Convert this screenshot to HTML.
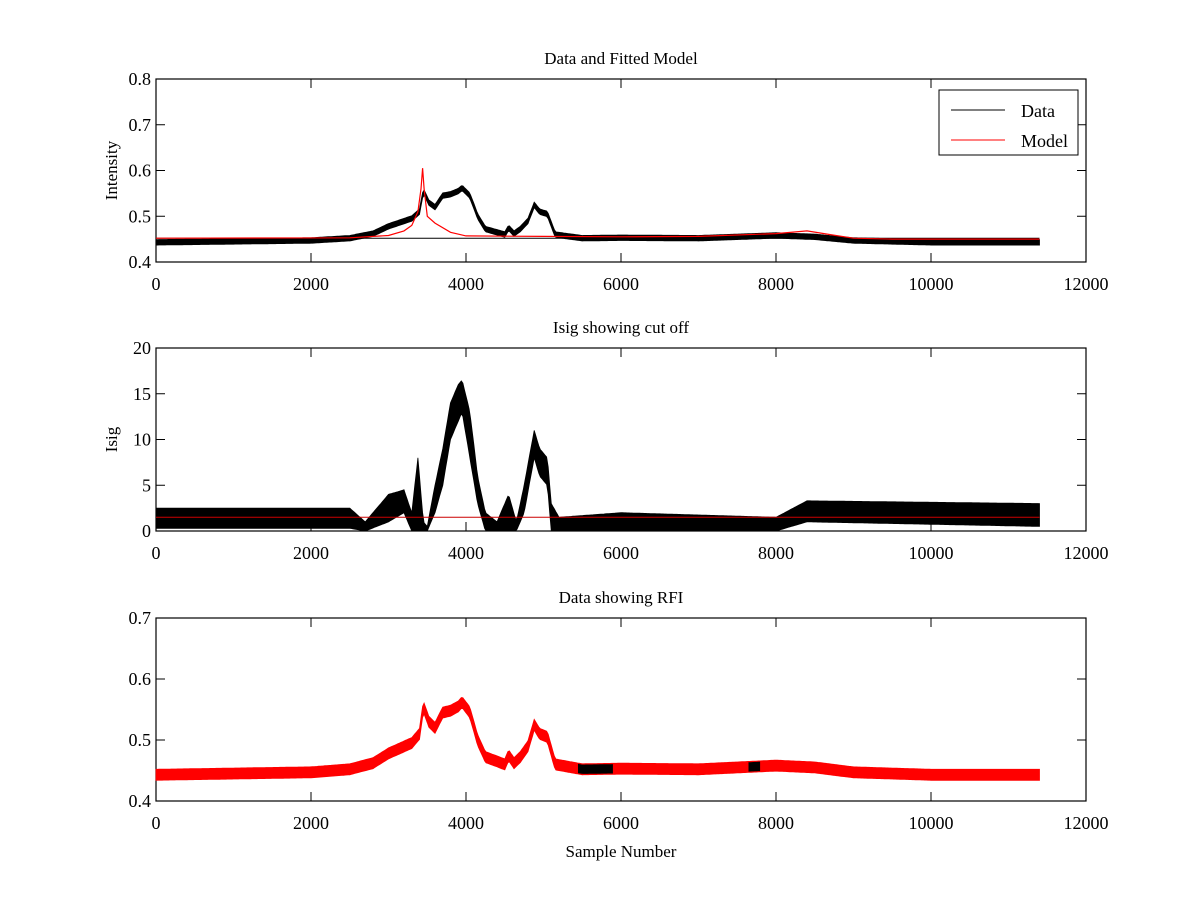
<!DOCTYPE html>
<html><head><meta charset="utf-8"><style>
body{margin:0;background:#fff}
svg text{font-family:"Liberation Serif",serif;fill:#000}
</style></head><body>
<svg id="fig" width="1200" height="900" xmlns="http://www.w3.org/2000/svg"></svg>
<script>
const xTicks=[0,2000,4000,6000,8000,10000,12000];
const p1YTicks=[0.4,0.5,0.6,0.7,0.8];
const p2YTicks=[0,5,10,15,20];
const p3YTicks=[0.4,0.5,0.6,0.7];
// Panel 1 data (center line + half-width of noise band)
const dataX=[0,1000,2000,2500,2800,3000,3300,3400,3450,3520,3600,3700,3800,3900,3950,4050,4150,4250,4400,4500,4550,4620,4700,4800,4880,4950,5050,5150,5500,6000,7000,8000,8500,9000,10000,11400];
const dataY=[0.443,0.445,0.447,0.452,0.462,0.478,0.495,0.51,0.555,0.53,0.52,0.545,0.548,0.555,0.562,0.545,0.5,0.472,0.465,0.46,0.475,0.462,0.472,0.49,0.525,0.51,0.505,0.46,0.452,0.453,0.452,0.458,0.455,0.447,0.443,0.443];
const dataNoise=0.006;
const modelX=[0,2500,3000,3200,3300,3380,3420,3440,3460,3500,3600,3800,4000,5000,6000,7000,8000,8400,8700,9000,9500,11400];
const modelY=[0.452,0.453,0.458,0.468,0.48,0.51,0.56,0.605,0.56,0.5,0.485,0.465,0.457,0.456,0.455,0.456,0.462,0.468,0.46,0.452,0.45,0.45];
const baseLevel=0.452;
// Panel 2 Isig band
const isigX=[0,2500,2700,3000,3200,3300,3380,3450,3500,3600,3700,3800,3900,3950,4050,4150,4250,4400,4550,4650,4750,4880,4950,5050,5100,5200,6000,8000,8400,11400];
const isigLo=[0.3,0.3,0,1,2,0,0,0,0,2,5,10,12,13,8,3,0,0,0,0,2,8,6,5,0,0,0,0,1,0.5];
const isigHi=[2.5,2.5,1,4,4.5,2,8,1,0.5,5,9,14,16,16.5,13,6,2,1,4,1,5,11,9,8,3,1.5,2,1.5,3.3,3];
const cutOff=1.5;
// Panel 3 non-RFI (black) segments
const blackSegs=[[5450,5900],[7650,7800]];
const rfiNoise=0.009;

const NS="http://www.w3.org/2000/svg";
const svg=document.getElementById('fig');
function mk(tag,attrs,parent){const e=document.createElementNS(NS,tag);for(const k in attrs)e.setAttribute(k,attrs[k]);(parent||svg).appendChild(e);return e;}
const L=156,R=1086;
function sx(v){return L+(v/12000)*(R-L);}
function interp(xs,ys,x){for(let i=1;i<xs.length;i++){if(x<=xs[i]){const t=(x-xs[i-1])/(xs[i]-xs[i-1]);return ys[i-1]+t*(ys[i]-ys[i-1]);}}return ys[ys.length-1];}

function axes(name,top,bot,ymin,ymax,yt,title,ylab,xlab){
  const g=mk('g',{});
  
  
  const sy=v=>bot-(v-ymin)/(ymax-ymin)*(bot-top);
  const t=mk('text',{x:(L+R)/2,y:top-15,'text-anchor':'middle','font-size':17},g);t.textContent=title;
  
  const yl=mk('text',{x:0,y:0,'text-anchor':'middle','font-size':17,transform:`translate(117,${(top+bot)/2}) rotate(-90)`},g);yl.textContent=ylab;
  
  if(xlab){const xl=mk('text',{x:(L+R)/2,y:bot+56,'text-anchor':'middle','font-size':17},g);xl.textContent=xlab;
    }
  xTicks.forEach(v=>{const x=sx(v);
    mk('line',{x1:x,x2:x,y1:bot,y2:bot-9,stroke:'#000'},g);mk('line',{x1:x,x2:x,y1:top,y2:top+9,stroke:'#000'},g);
    const tx=mk('text',{x:x,y:bot+28,'text-anchor':'middle','font-size':18},g);tx.textContent=v;
    });
  yt.forEach(v=>{const y=sy(v);
    mk('line',{x1:L,x2:L+9,y1:y,y2:y,stroke:'#000'},g);mk('line',{x1:R,x2:R-9,y1:y,y2:y,stroke:'#000'},g);
    const ty=mk('text',{x:L-5,y:y+6,'text-anchor':'end','font-size':18},g);ty.textContent=String(v);
    });
  const fr=mk('rect',{x:L,y:top,width:R-L,height:bot-top,fill:'none',stroke:'#000','stroke-width':1.2},g);
  
  return sy;
}
function band(sy,x0,x1,lo,hi,color,name){
  const up=[],dn=[];
  for(let x=x0;x<=x1;x+=20){up.push(sx(x).toFixed(1)+','+sy(hi(x)).toFixed(1));dn.unshift(sx(x).toFixed(1)+','+sy(lo(x)).toFixed(1));}
  const p=mk('polygon',{points:up.concat(dn).join(' '),fill:color,stroke:color,'stroke-width':0.8});
  
}
function line(sy,xs,ys,color,w,name){
  const p=mk('polyline',{points:xs.map((x,i)=>sx(x).toFixed(1)+','+sy(ys[i]).toFixed(1)).join(' '),fill:'none',stroke:color,'stroke-width':w});
  
}
// Panel 1
const s1=axes('panel-data-model',79,262,0.4,0.8,p1YTicks,'Data and Fitted Model','Intensity');
line(s1,[0,11400],[baseLevel,baseLevel],'#000',1,'baseline');
band(s1,0,11400,x=>interp(dataX,dataY,x)-dataNoise,x=>interp(dataX,dataY,x)+dataNoise,'#000','data-series');
line(s1,modelX,modelY,'#f00',1.2,'model-series');
// legend
const lg=mk('g',{});
mk('rect',{x:939,y:90,width:139,height:65,fill:'#fff',stroke:'#000'},lg);
mk('line',{x1:951,x2:1005,y1:110,y2:110,stroke:'#000'},lg);
mk('line',{x1:951,x2:1005,y1:140,y2:140,stroke:'#f00'},lg);
const t1=mk('text',{x:1021,y:117,'font-size':18},lg);t1.textContent='Data';

const t2=mk('text',{x:1021,y:147,'font-size':18},lg);t2.textContent='Model';

// Panel 2
const s2=axes('panel-isig',348,531,0,20,p2YTicks,'Isig showing cut off','Isig');
band(s2,0,11400,x=>interp(isigX,isigLo,x),x=>interp(isigX,isigHi,x),'#000','isig-series');
line(s2,[0,11400],[cutOff,cutOff],'#c00',1,'cutoff-line');
// Panel 3
const s3=axes('panel-rfi',618,801,0.4,0.7,p3YTicks,'Data showing RFI','','Sample Number');
band(s3,0,11400,x=>interp(dataX,dataY,x)-rfiNoise,x=>interp(dataX,dataY,x)+rfiNoise,'#f00','rfi-series');
blackSegs.forEach(s=>band(s3,s[0],s[1],x=>interp(dataX,dataY,x)-0.007,x=>interp(dataX,dataY,x)+0.007,'#000','clean-segment'));
</script>
</body></html>
